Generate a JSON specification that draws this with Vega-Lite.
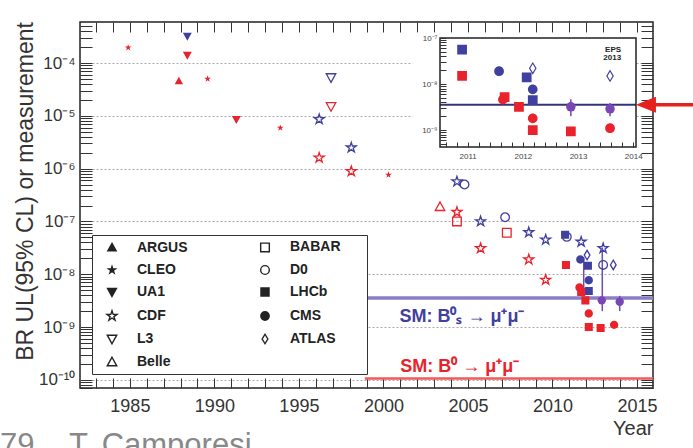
{
  "$schema": "https://vega.github.io/schema/vega-lite/v6.json",
  "width": 573,
  "height": 366,
  "autosize": "none",
  "padding": {"left": 80, "top": 22, "right": 40, "bottom": 60},
  "background": "white",
  "config": {
    "font": "Liberation Sans",
    "view": {"stroke": "#222", "strokeWidth": 1.5},
    "axis": {"labelFont": "Liberation Sans", "titleFont": "Liberation Sans"}
  },
  "title": {
    "text": "79\u00a0\u00a0\u00a0\u00a0T. Camporesi",
    "orient": "bottom",
    "anchor": "start",
    "frame": "group",
    "dx": -80,
    "offset": -7,
    "baseline": "top",
    "fontSize": 31,
    "fontWeight": "normal",
    "font": "Liberation Sans",
    "color": "#888"
  },
  "datasets": {
    "pts": [
      {"exp": "CLEO", "year": 1984.9, "br": 1.95e-4, "decay": "B0"},
      {"exp": "UA1", "year": 1988.4, "br": 3.2e-4, "decay": "Bs"},
      {"exp": "UA1", "year": 1988.4, "br": 1.4e-4, "decay": "B0"},
      {"exp": "ARGUS", "year": 1987.9, "br": 4.6e-5, "decay": "B0"},
      {"exp": "CLEO", "year": 1989.6, "br": 5.0e-5, "decay": "B0"},
      {"exp": "UA1", "year": 1991.3, "br": 8.5e-6, "decay": "B0"},
      {"exp": "CLEO", "year": 1993.9, "br": 5.9e-6, "decay": "B0"},
      {"exp": "CDF", "year": 1996.2, "br": 8.6e-6, "decay": "Bs"},
      {"exp": "CDF", "year": 1996.2, "br": 1.6e-6, "decay": "B0"},
      {"exp": "L3", "year": 1996.9, "br": 5.3e-5, "decay": "Bs"},
      {"exp": "L3", "year": 1996.9, "br": 1.5e-5, "decay": "B0"},
      {"exp": "CDF", "year": 1998.1, "br": 2.5e-6, "decay": "Bs"},
      {"exp": "CDF", "year": 1998.1, "br": 8.9e-7, "decay": "B0"},
      {"exp": "CLEO", "year": 2000.3, "br": 7.6e-7, "decay": "B0"},
      {"exp": "CDF", "year": 2004.35, "br": 5.7e-7, "decay": "Bs"},
      {"exp": "D0", "year": 2004.8, "br": 5.0e-7, "decay": "Bs"},
      {"exp": "Belle", "year": 2003.35, "br": 1.9e-7, "decay": "B0"},
      {"exp": "CDF", "year": 2004.35, "br": 1.5e-7, "decay": "B0"},
      {"exp": "BABAR", "year": 2004.35, "br": 1.0e-7, "decay": "B0"},
      {"exp": "CDF", "year": 2005.75, "br": 1.0e-7, "decay": "Bs"},
      {"exp": "CDF", "year": 2005.75, "br": 3.1e-8, "decay": "B0"},
      {"exp": "D0", "year": 2007.2, "br": 1.2e-7, "decay": "Bs"},
      {"exp": "BABAR", "year": 2007.3, "br": 6.1e-8, "decay": "B0"},
      {"exp": "CDF", "year": 2008.6, "br": 6.2e-8, "decay": "Bs"},
      {"exp": "CDF", "year": 2008.6, "br": 1.9e-8, "decay": "B0"},
      {"exp": "CDF", "year": 2009.6, "br": 4.5e-8, "decay": "Bs"},
      {"exp": "CDF", "year": 2009.6, "br": 7.8e-9, "decay": "B0"},
      {"exp": "D0", "year": 2010.85, "br": 5.1e-8, "decay": "Bs"},
      {"exp": "LHCb", "year": 2010.75, "br": 5.6e-8, "decay": "Bs"},
      {"exp": "LHCb", "year": 2010.8, "br": 1.5e-8, "decay": "B0"},
      {"exp": "CDF", "year": 2011.7, "br": 4.1e-8, "decay": "Bs"},
      {"exp": "CMS", "year": 2011.65, "br": 1.9e-8, "decay": "Bs"},
      {"exp": "ATLAS", "year": 2012.05, "br": 2.3e-8, "decay": "Bs"},
      {"exp": "LHCb", "year": 2012.1, "br": 1.45e-8, "decay": "Bs"},
      {"exp": "CMS", "year": 2012.15, "br": 7.7e-9, "decay": "Bs"},
      {"exp": "LHCb", "year": 2012.15, "br": 4.8e-9, "decay": "Bs"},
      {"exp": "CDF", "year": 2013.0, "br": 3.1e-8, "decay": "Bs"},
      {"exp": "D0", "year": 2013.0, "br": 1.5e-8, "decay": "Bs"},
      {"exp": "ATLAS", "year": 2013.6, "br": 1.5e-8, "decay": "Bs"},
      {"exp": "CMS", "year": 2011.6, "br": 5.6e-9, "decay": "B0"},
      {"exp": "LHCb", "year": 2011.7, "br": 4.6e-9, "decay": "B0"},
      {"exp": "LHCb", "year": 2011.95, "br": 3.2e-9, "decay": "B0"},
      {"exp": "CMS", "year": 2012.15, "br": 1.8e-9, "decay": "B0"},
      {"exp": "LHCb", "year": 2012.15, "br": 1.0e-9, "decay": "B0"},
      {"exp": "LHCb", "year": 2012.85, "br": 9.6e-10, "decay": "B0"},
      {"exp": "CMS", "year": 2013.65, "br": 1.1e-9, "decay": "B0"}
    ],
    "sm": [
      {"decay": "Bs", "year": 1998.9, "year2": 2015.95, "br": 3.56e-9},
      {"decay": "B0", "year": 1998.9, "year2": 2015.95, "br": 1.06e-10}
    ],
    "err": [
      {"year": 2011.85, "br": 4.6e-9, "br2": 2.1e-8},
      {"year": 2012.95, "br": 2.0e-9, "br2": 3.2e-8},
      {"year": 2013.98, "br": 2.0e-9, "br2": 3.9e-9}
    ],
    "meas": [
      {"year": 2012.92, "br": 3.2e-9},
      {"year": 2013.98, "br": 3.0e-9}
    ],
    "ann": [
      {"label": "SM: B⁰ₛ → μ⁺μ⁻", "year": 2000.95, "br": 1.55e-9, "decay": "Bs"},
      {"label": "SM: B⁰ → μ⁺μ⁻", "year": 2001.0, "br": 1.74e-10, "decay": "B0"}
    ],
    "ins": [
      {"exp": "LHCb", "year": 2010.9, "br": 5.6e-8, "decay": "Bs"},
      {"exp": "LHCb", "year": 2010.9, "br": 1.5e-8, "decay": "B0"},
      {"exp": "CMS", "year": 2011.57, "br": 1.9e-8, "decay": "Bs"},
      {"exp": "CMS", "year": 2011.64, "br": 4.6e-9, "decay": "B0"},
      {"exp": "LHCb", "year": 2011.67, "br": 5.2e-9, "decay": "B0"},
      {"exp": "LHCb", "year": 2011.93, "br": 3.2e-9, "decay": "B0"},
      {"exp": "LHCb", "year": 2012.07, "br": 1.4e-8, "decay": "Bs"},
      {"exp": "CMS", "year": 2012.18, "br": 7.7e-9, "decay": "Bs"},
      {"exp": "LHCb", "year": 2012.18, "br": 4.5e-9, "decay": "Bs"},
      {"exp": "ATLAS", "year": 2012.18, "br": 2.2e-8, "decay": "Bs"},
      {"exp": "CMS", "year": 2012.18, "br": 1.8e-9, "decay": "B0"},
      {"exp": "LHCb", "year": 2012.18, "br": 1.0e-9, "decay": "B0"},
      {"exp": "LHCb", "year": 2012.87, "br": 9.4e-10, "decay": "B0"},
      {"exp": "CMS", "year": 2013.58, "br": 1.1e-9, "decay": "B0"},
      {"exp": "ATLAS", "year": 2013.58, "br": 1.5e-8, "decay": "Bs"}
    ],
    "insmeas": [
      {"year": 2012.87, "br": 3.2e-9},
      {"year": 2013.58, "br": 2.9e-9}
    ],
    "insmerr": [
      {"year": 2012.87, "br": 2.0e-9, "br2": 4.7e-9},
      {"year": 2013.58, "br": 2.0e-9, "br2": 3.9e-9}
    ],
    "insbox": [{"year": 2010.0, "year2": 2014.05, "br": 1.9e-10, "br2": 1.3e-7}],
    "insframe": [{"year": 2010.5, "year2": 2014.05, "br": 4.3e-10, "br2": 1e-7}],
    "inssm": [{"year": 2010.5, "year2": 2014.05, "br": 3.56e-9}],
    "eps": [
      {"label": "EPS", "year": 2013.78, "br": 5.6e-8},
      {"label": "2013", "year": 2013.78, "br": 3.6e-8}
    ],
    "arrow": [{"year": 2014.38, "year2": 2015.3, "br": 3.56e-9}],
    "arrowhead": [{"year": 2014.23, "br": 3.56e-9}]
  },
  "resolve": {
    "scale": {"x": "independent", "y": "independent"},
    "axis": {"x": "independent", "y": "independent"}
  },
  "layer": [
    {
      "data": {"name": "sm"},
      "mark": {"type": "point", "opacity": 0},
      "encoding": {
        "x": {"field": "year", "type": "quantitative", "scale": {"domain": [1982.05, 2015.95], "nice": false, "zero": false}, "axis": null},
        "y": {
          "field": "br", "type": "quantitative",
          "scale": {"type": "log", "domain": [7.0e-11, 5.98e-4], "nice": false},
          "axis": {
            "orient": "left", "title": null, "values": [1e-10, 1e-9, 1e-8, 1e-7, 1e-6, 1e-5, 1e-4],
            "grid": true, "gridDash": [2, 2], "gridColor": "#a8a8a8", "gridWidth": 1,
            "ticks": false, "labels": false, "domain": false
          }
        }
      }
    },
    {
      "data": {"name": "sm"},
      "mark": {"type": "point", "opacity": 0},
      "encoding": {
        "x": {
          "field": "year", "type": "quantitative", "scale": {"domain": [1982.05, 2015.95], "nice": false, "zero": false},
          "axis": {
            "orient": "top", "title": null, "labels": false, "domain": false, "grid": false,
            "values": [1983,1984,1985,1986,1987,1988,1989,1990,1991,1992,1993,1994,1995,1996,1997,1998,1999,2000,2001,2002,2003,2004,2005,2006,2007,2008,2009,2010,2011,2012,2013,2014,2015],
            "tickSize": -10, "tickColor": "#333",
            "encode": {"ticks": {"update": {"y2": {"signal": "datum.value % 5 == 0 ? 10 : 5"}}}}
          }
        },
        "y": {
          "field": "br", "type": "quantitative",
          "scale": {"type": "log", "domain": [7.0e-11, 5.98e-4], "nice": false},
          "axis": {
            "orient": "right", "title": null, "labels": false, "domain": false, "grid": false,
            "values": [7e-11,8e-11,9e-11,1e-10,2e-10,3e-10,4e-10,5e-10,6e-10,7e-10,8e-10,9e-10,1e-9,2e-9,3e-9,4e-9,5e-9,6e-9,7e-9,8e-9,9e-9,1e-8,2e-8,3e-8,4e-8,5e-8,6e-8,7e-8,8e-8,9e-8,1e-7,2e-7,3e-7,4e-7,5e-7,6e-7,7e-7,8e-7,9e-7,1e-6,2e-6,3e-6,4e-6,5e-6,6e-6,7e-6,8e-6,9e-6,1e-5,2e-5,3e-5,4e-5,5e-5,6e-5,7e-5,8e-5,9e-5,1e-4,2e-4,3e-4,4e-4,5e-4],
            "tickSize": -12, "tickColor": "#333",
            "encode": {"ticks": {"update": {"x2": {"signal": "abs(log(datum.value)/LN10 - round(log(datum.value)/LN10)) < 0.001 ? -12 : -6"}}}}
          }
        }
      }
    },
    {
      "encoding": {
        "x": {
          "field": "year", "type": "quantitative", "scale": {"domain": [1982.05, 2015.95], "nice": false, "zero": false},
          "axis": {
            "orient": "bottom", "title": "Year", "titleFontSize": 20, "titleFontWeight": "normal", "titleColor": "#333",
            "titleX": 573, "titleY": 46, "titleAlign": "right", "titleBaseline": "alphabetic",
            "values": [1983,1984,1985,1986,1987,1988,1989,1990,1991,1992,1993,1994,1995,1996,1997,1998,1999,2000,2001,2002,2003,2004,2005,2006,2007,2008,2009,2010,2011,2012,2013,2014,2015],
            "labelExpr": "datum.value % 5 == 0 ? '' + datum.value : ''",
            "labelFontSize": 18, "labelColor": "#333", "labelPadding": 19, "labelBaseline": "top",
            "labelOverlap": false, "labelFlush": false,
            "tickSize": -10, "tickColor": "#333",
            "encode": {"ticks": {"update": {"y2": {"signal": "datum.value % 5 == 0 ? -10 : -5"}}}},
            "domain": false, "grid": false
          }
        },
        "y": {
          "field": "br", "type": "quantitative",
          "scale": {"type": "log", "domain": [7.0e-11, 5.98e-4], "nice": false},
          "axis": {
            "orient": "left", "title": "BR UL(95% CL) or measurement", "titleFontSize": 23, "titleFontWeight": "normal", "titleColor": "#333",
            "titleX": -48, "titleY": 169, "titleAngle": 270, "titleAlign": "center", "titleBaseline": "alphabetic",
            "values": [7e-11,8e-11,9e-11,1e-10,2e-10,3e-10,4e-10,5e-10,6e-10,7e-10,8e-10,9e-10,1e-9,2e-9,3e-9,4e-9,5e-9,6e-9,7e-9,8e-9,9e-9,1e-8,2e-8,3e-8,4e-8,5e-8,6e-8,7e-8,8e-8,9e-8,1e-7,2e-7,3e-7,4e-7,5e-7,6e-7,7e-7,8e-7,9e-7,1e-6,2e-6,3e-6,4e-6,5e-6,6e-6,7e-6,8e-6,9e-6,1e-5,2e-5,3e-5,4e-5,5e-5,6e-5,7e-5,8e-5,9e-5,1e-4,2e-4,3e-4,4e-4,5e-4],
            "labelExpr": "abs(log(datum.value)/LN10 - round(log(datum.value)/LN10)) < 0.001 ? '10' + ['⁻¹⁰','⁻⁹','⁻⁸','⁻⁷','⁻⁶','⁻⁵','⁻⁴'][round(log(datum.value)/LN10) + 10] : ''",
            "labelFontSize": 17, "labelColor": "#333", "labelPadding": 17, "labelOverlap": false, "labelFlush": false,
            "tickSize": -12, "tickColor": "#333",
            "encode": {"ticks": {"update": {"x2": {"signal": "abs(log(datum.value)/LN10 - round(log(datum.value)/LN10)) < 0.001 ? 12 : 6"}}}},
            "domain": false, "grid": false
          }
        }
      },
      "layer": [
        {
          "data": {"name": "sm"},
          "transform": [{"filter": "datum.decay == 'Bs'"}],
          "mark": {"type": "rule", "color": "#8a7ec8", "strokeWidth": 3.5},
          "encoding": {"x2": {"field": "year2"}}
        },
        {
          "data": {"name": "sm"},
          "transform": [{"filter": "datum.decay == 'B0'"}],
          "mark": {"type": "rule", "color": "#f05a5a", "strokeWidth": 2.5},
          "encoding": {"x2": {"field": "year2"}}
        },
        {
          "data": {"name": "err"},
          "mark": {"type": "rule", "color": "#6a4fb0", "strokeWidth": 1.5},
          "encoding": {"y2": {"field": "br2"}}
        },
        {
          "data": {"name": "pts"},
          "transform": [{"filter": {"field": "exp", "oneOf": ["CDF", "L3", "Belle", "BABAR", "D0", "ATLAS"]}}],
          "mark": {"type": "point", "filled": false, "strokeWidth": 1.3, "opacity": 1},
          "encoding": {
            "shape": {"field": "exp", "type": "nominal",
              "scale": {"domain": ["ARGUS","CLEO","UA1","CDF","L3","Belle","BABAR","D0","LHCb","CMS","ATLAS"],
                "range": [
                  "M0,-1L1,0.8L-1,0.8Z M0,-0.46L0.55,0.53L-0.55,0.53Z M0,0.02L0.15,0.29L-0.15,0.29Z",
                  "M0,-1L0.225,-0.31L0.951,-0.31L0.363,0.118L0.588,0.809L0,0.382L-0.588,0.809L-0.363,0.118L-0.951,-0.31L-0.225,-0.31Z M0,-0.55L0.124,-0.171L0.523,-0.171L0.2,0.065L0.323,0.445L0,0.21L-0.323,0.445L-0.2,0.065L-0.523,-0.171L-0.124,-0.171Z M0,-0.2L0.045,-0.062L0.19,-0.062L0.073,0.024L0.118,0.162L0,0.076L-0.118,0.162L-0.073,0.024L-0.19,-0.062L-0.045,-0.062Z",
                  "M0,1L1,-0.8L-1,-0.8Z M0,0.46L0.55,-0.53L-0.55,-0.53Z M0,-0.02L0.15,-0.29L-0.15,-0.29Z",
                  "M0,-1L0.225,-0.31L0.951,-0.31L0.363,0.118L0.588,0.809L0,0.382L-0.588,0.809L-0.363,0.118L-0.951,-0.31L-0.225,-0.31Z",
                  "M0,1L1,-0.8L-1,-0.8Z",
                  "M0,-1L1,0.8L-1,0.8Z",
                  "square",
                  "circle",
                  "M-1,-1H1V1H-1Z M-0.72,-0.72H0.72V0.72H-0.72Z M-0.45,-0.45H0.45V0.45H-0.45Z M-0.18,-0.18H0.18V0.18H-0.18Z",
                  "M-1,0A1,1,0,1,0,1,0A1,1,0,1,0,-1,0Z M-0.72,0A0.72,0.72,0,1,0,0.72,0A0.72,0.72,0,1,0,-0.72,0Z M-0.45,0A0.45,0.45,0,1,0,0.45,0A0.45,0.45,0,1,0,-0.45,0Z M-0.18,0A0.18,0.18,0,1,0,0.18,0A0.18,0.18,0,1,0,-0.18,0Z",
                  "M0,-1L0.6,0L0,1L-0.6,0Z"
                ]},
              "legend": {
                "orient": "none", "legendX": 12, "legendY": 213, "direction": "vertical", "columns": 2,
                "title": "\u00a0", "titleOrient": "right", "titleFontSize": 14, "titlePadding": 21,
                "padding": 5, "strokeColor": "#333", "fillColor": "white",
                "labelFont": "Liberation Sans", "labelFontSize": 14, "labelFontWeight": "bold", "labelColor": "#222",
                "symbolOffset": 8, "labelOffset": 18, "columnPadding": 62, "rowPadding": 7,
                "symbolStrokeColor": "#222", "symbolStrokeWidth": 1.4,
                "zindex": 1
              }},
            "size": {"field": "exp", "type": "nominal",
              "scale": {"type": "ordinal", "domain": ["ARGUS","CLEO","UA1","CDF","L3","Belle","BABAR","D0","LHCb","CMS","ATLAS"],
                "range": [70, 50, 80, 110, 90, 90, 75, 75, 65, 70, 90]}},
            "color": {"field": "decay", "type": "nominal", "scale": {"domain": ["B0", "Bs"], "range": ["#e8232b", "#4040a0"]}, "legend": null}
          }
        },
        {
          "data": {"name": "pts"},
          "transform": [{"filter": {"field": "exp", "oneOf": ["ARGUS", "CLEO", "UA1", "LHCb", "CMS"]}}],
          "mark": {"type": "point", "filled": true, "opacity": 1},
          "encoding": {
            "shape": {"field": "exp", "type": "nominal",
              "scale": {"domain": ["ARGUS","CLEO","UA1","CDF","L3","Belle","BABAR","D0","LHCb","CMS","ATLAS"],
                "range": [
                  "M0,-1L1,0.8L-1,0.8Z M0,-0.46L0.55,0.53L-0.55,0.53Z M0,0.02L0.15,0.29L-0.15,0.29Z",
                  "M0,-1L0.225,-0.31L0.951,-0.31L0.363,0.118L0.588,0.809L0,0.382L-0.588,0.809L-0.363,0.118L-0.951,-0.31L-0.225,-0.31Z M0,-0.55L0.124,-0.171L0.523,-0.171L0.2,0.065L0.323,0.445L0,0.21L-0.323,0.445L-0.2,0.065L-0.523,-0.171L-0.124,-0.171Z M0,-0.2L0.045,-0.062L0.19,-0.062L0.073,0.024L0.118,0.162L0,0.076L-0.118,0.162L-0.073,0.024L-0.19,-0.062L-0.045,-0.062Z",
                  "M0,1L1,-0.8L-1,-0.8Z M0,0.46L0.55,-0.53L-0.55,-0.53Z M0,-0.02L0.15,-0.29L-0.15,-0.29Z",
                  "M0,-1L0.225,-0.31L0.951,-0.31L0.363,0.118L0.588,0.809L0,0.382L-0.588,0.809L-0.363,0.118L-0.951,-0.31L-0.225,-0.31Z",
                  "M0,1L1,-0.8L-1,-0.8Z",
                  "M0,-1L1,0.8L-1,0.8Z",
                  "square",
                  "circle",
                  "M-1,-1H1V1H-1Z M-0.72,-0.72H0.72V0.72H-0.72Z M-0.45,-0.45H0.45V0.45H-0.45Z M-0.18,-0.18H0.18V0.18H-0.18Z",
                  "M-1,0A1,1,0,1,0,1,0A1,1,0,1,0,-1,0Z M-0.72,0A0.72,0.72,0,1,0,0.72,0A0.72,0.72,0,1,0,-0.72,0Z M-0.45,0A0.45,0.45,0,1,0,0.45,0A0.45,0.45,0,1,0,-0.45,0Z M-0.18,0A0.18,0.18,0,1,0,0.18,0A0.18,0.18,0,1,0,-0.18,0Z",
                  "M0,-1L0.6,0L0,1L-0.6,0Z"
                ]}},
            "size": {"field": "exp", "type": "nominal",
              "scale": {"type": "ordinal", "domain": ["ARGUS","CLEO","UA1","CDF","L3","Belle","BABAR","D0","LHCb","CMS","ATLAS"],
                "range": [70, 50, 80, 110, 90, 90, 75, 75, 65, 70, 90]}},
            "color": {"field": "decay", "type": "nominal", "scale": {"domain": ["B0", "Bs"], "range": ["#e8232b", "#4040a0"]}, "legend": null}
          }
        },
        {
          "data": {"name": "meas"},
          "mark": {"type": "circle", "size": 70, "color": "#7a45b5", "opacity": 1}
        },
        {
          "data": {"name": "ann"},
          "mark": {"type": "text", "fontSize": 18, "fontWeight": "bold", "align": "left", "baseline": "middle", "font": "Liberation Sans"},
          "encoding": {
            "text": {"field": "label"},
            "color": {"field": "decay", "type": "nominal", "scale": {"domain": ["B0", "Bs"], "range": ["#e8232b", "#4040a0"]}, "legend": null}
          }
        }
      ]
    },
    {
      "encoding": {
        "x": {
          "field": "year", "type": "quantitative",
          "scale": {"domain": [2010.5, 2014.05], "range": [360, 556], "nice": false, "zero": false},
          "axis": {
            "orient": "bottom", "offset": -241, "title": null, "zindex": 1,
            "values": [2010.6,2010.8,2011,2011.2,2011.4,2011.6,2011.8,2012,2012.2,2012.4,2012.6,2012.8,2013,2013.2,2013.4,2013.6,2013.8,2014],
            "labelExpr": "datum.value % 1 == 0 ? '' + datum.value : ''",
            "labelFontSize": 8, "labelColor": "#444", "labelPadding": 10, "labelBaseline": "top",
            "labelOverlap": false, "labelFlush": false,
            "tickSize": -5, "tickColor": "#333",
            "encode": {"ticks": {"update": {"y2": {"signal": "datum.value % 1 == 0 ? -6 : -3"}}}},
            "domain": false, "grid": false
          }
        },
        "y": {
          "field": "br", "type": "quantitative",
          "scale": {"type": "log", "domain": [4.3e-10, 1e-7], "range": [125, 16], "nice": false},
          "axis": {
            "orient": "left", "offset": -360, "title": null, "zindex": 1,
            "values": [5e-10,6e-10,7e-10,8e-10,9e-10,1e-9,2e-9,3e-9,4e-9,5e-9,6e-9,7e-9,8e-9,9e-9,1e-8,2e-8,3e-8,4e-8,5e-8,6e-8,7e-8,8e-8,9e-8,1e-7],
            "labelExpr": "abs(log(datum.value)/LN10 - round(log(datum.value)/LN10)) < 0.001 ? '10' + ['⁻¹⁰','⁻⁹','⁻⁸','⁻⁷','⁻⁶','⁻⁵','⁻⁴'][round(log(datum.value)/LN10) + 10] : ''",
            "labelFontSize": 8, "labelColor": "#444", "labelPadding": 9, "labelOverlap": false, "labelFlush": false,
            "tickSize": -6, "tickColor": "#333",
            "encode": {"ticks": {"update": {"x2": {"signal": "abs(log(datum.value)/LN10 - round(log(datum.value)/LN10)) < 0.001 ? 6 : 3"}}}},
            "domain": false, "grid": false
          }
        }
      },
      "layer": [
        {
          "data": {"name": "insbox"},
          "mark": {"type": "rect", "fill": "white", "stroke": null},
          "encoding": {"x2": {"field": "year2"}, "y2": {"field": "br2"}}
        },
        {
          "data": {"name": "inssm"},
          "mark": {"type": "rule", "color": "#34347a", "strokeWidth": 2},
          "encoding": {"x2": {"field": "year2"}}
        },
        {
          "data": {"name": "insframe"},
          "mark": {"type": "rect", "filled": false, "stroke": "#222", "strokeWidth": 1.5},
          "encoding": {"x2": {"field": "year2"}, "y2": {"field": "br2"}}
        },
        {
          "data": {"name": "insmerr"},
          "mark": {"type": "rule", "color": "#7a45b5", "strokeWidth": 1.5},
          "encoding": {"y2": {"field": "br2"}}
        },
        {
          "data": {"name": "ins"},
          "transform": [{"filter": {"field": "exp", "oneOf": ["LHCb", "CMS"]}}],
          "mark": {"type": "point", "filled": true, "size": 95, "opacity": 1},
          "encoding": {
            "shape": {"field": "exp", "type": "nominal",
              "scale": {"domain": ["ARGUS","CLEO","UA1","CDF","L3","Belle","BABAR","D0","LHCb","CMS","ATLAS"],
                "range": [
                  "M0,-1L1,0.8L-1,0.8Z M0,-0.46L0.55,0.53L-0.55,0.53Z M0,0.02L0.15,0.29L-0.15,0.29Z",
                  "M0,-1L0.225,-0.31L0.951,-0.31L0.363,0.118L0.588,0.809L0,0.382L-0.588,0.809L-0.363,0.118L-0.951,-0.31L-0.225,-0.31Z M0,-0.55L0.124,-0.171L0.523,-0.171L0.2,0.065L0.323,0.445L0,0.21L-0.323,0.445L-0.2,0.065L-0.523,-0.171L-0.124,-0.171Z M0,-0.2L0.045,-0.062L0.19,-0.062L0.073,0.024L0.118,0.162L0,0.076L-0.118,0.162L-0.073,0.024L-0.19,-0.062L-0.045,-0.062Z",
                  "M0,1L1,-0.8L-1,-0.8Z M0,0.46L0.55,-0.53L-0.55,-0.53Z M0,-0.02L0.15,-0.29L-0.15,-0.29Z",
                  "M0,-1L0.225,-0.31L0.951,-0.31L0.363,0.118L0.588,0.809L0,0.382L-0.588,0.809L-0.363,0.118L-0.951,-0.31L-0.225,-0.31Z",
                  "M0,1L1,-0.8L-1,-0.8Z",
                  "M0,-1L1,0.8L-1,0.8Z",
                  "square",
                  "circle",
                  "M-1,-1H1V1H-1Z M-0.72,-0.72H0.72V0.72H-0.72Z M-0.45,-0.45H0.45V0.45H-0.45Z M-0.18,-0.18H0.18V0.18H-0.18Z",
                  "M-1,0A1,1,0,1,0,1,0A1,1,0,1,0,-1,0Z M-0.72,0A0.72,0.72,0,1,0,0.72,0A0.72,0.72,0,1,0,-0.72,0Z M-0.45,0A0.45,0.45,0,1,0,0.45,0A0.45,0.45,0,1,0,-0.45,0Z M-0.18,0A0.18,0.18,0,1,0,0.18,0A0.18,0.18,0,1,0,-0.18,0Z",
                  "M0,-1L0.6,0L0,1L-0.6,0Z"
                ]}},
            "color": {"field": "decay", "type": "nominal", "scale": {"domain": ["B0", "Bs"], "range": ["#e8232b", "#4040a0"]}, "legend": null}
          }
        },
        {
          "data": {"name": "ins"},
          "transform": [{"filter": {"field": "exp", "oneOf": ["ATLAS"]}}],
          "mark": {"type": "point", "filled": false, "size": 110, "strokeWidth": 1.2, "opacity": 1},
          "encoding": {
            "shape": {"field": "exp", "type": "nominal",
              "scale": {"domain": ["ARGUS","CLEO","UA1","CDF","L3","Belle","BABAR","D0","LHCb","CMS","ATLAS"],
                "range": [
                  "M0,-1L1,0.8L-1,0.8Z M0,-0.46L0.55,0.53L-0.55,0.53Z M0,0.02L0.15,0.29L-0.15,0.29Z",
                  "M0,-1L0.225,-0.31L0.951,-0.31L0.363,0.118L0.588,0.809L0,0.382L-0.588,0.809L-0.363,0.118L-0.951,-0.31L-0.225,-0.31Z M0,-0.55L0.124,-0.171L0.523,-0.171L0.2,0.065L0.323,0.445L0,0.21L-0.323,0.445L-0.2,0.065L-0.523,-0.171L-0.124,-0.171Z M0,-0.2L0.045,-0.062L0.19,-0.062L0.073,0.024L0.118,0.162L0,0.076L-0.118,0.162L-0.073,0.024L-0.19,-0.062L-0.045,-0.062Z",
                  "M0,1L1,-0.8L-1,-0.8Z M0,0.46L0.55,-0.53L-0.55,-0.53Z M0,-0.02L0.15,-0.29L-0.15,-0.29Z",
                  "M0,-1L0.225,-0.31L0.951,-0.31L0.363,0.118L0.588,0.809L0,0.382L-0.588,0.809L-0.363,0.118L-0.951,-0.31L-0.225,-0.31Z",
                  "M0,1L1,-0.8L-1,-0.8Z",
                  "M0,-1L1,0.8L-1,0.8Z",
                  "square",
                  "circle",
                  "M-1,-1H1V1H-1Z M-0.72,-0.72H0.72V0.72H-0.72Z M-0.45,-0.45H0.45V0.45H-0.45Z M-0.18,-0.18H0.18V0.18H-0.18Z",
                  "M-1,0A1,1,0,1,0,1,0A1,1,0,1,0,-1,0Z M-0.72,0A0.72,0.72,0,1,0,0.72,0A0.72,0.72,0,1,0,-0.72,0Z M-0.45,0A0.45,0.45,0,1,0,0.45,0A0.45,0.45,0,1,0,-0.45,0Z M-0.18,0A0.18,0.18,0,1,0,0.18,0A0.18,0.18,0,1,0,-0.18,0Z",
                  "M0,-1L0.6,0L0,1L-0.6,0Z"
                ]}},
            "color": {"field": "decay", "type": "nominal", "scale": {"domain": ["B0", "Bs"], "range": ["#e8232b", "#4040a0"]}, "legend": null}
          }
        },
        {
          "data": {"name": "insmeas"},
          "mark": {"type": "circle", "size": 90, "color": "#7a45b5", "opacity": 1}
        },
        {
          "data": {"name": "eps"},
          "mark": {"type": "text", "fontSize": 8, "fontWeight": "bold", "align": "right", "baseline": "middle", "color": "#222", "font": "Liberation Sans"},
          "encoding": {"text": {"field": "label"}}
        },
        {
          "data": {"name": "arrow"},
          "mark": {"type": "rule", "color": "#e5201d", "strokeWidth": 3.5},
          "encoding": {"x2": {"field": "year2"}}
        },
        {
          "data": {"name": "arrowhead"},
          "mark": {"type": "point", "filled": true, "shape": "M-1,0L1,-0.8L1,0.8Z", "size": 400, "color": "#e5201d", "opacity": 1}
        }
      ]
    }
  ]
}
